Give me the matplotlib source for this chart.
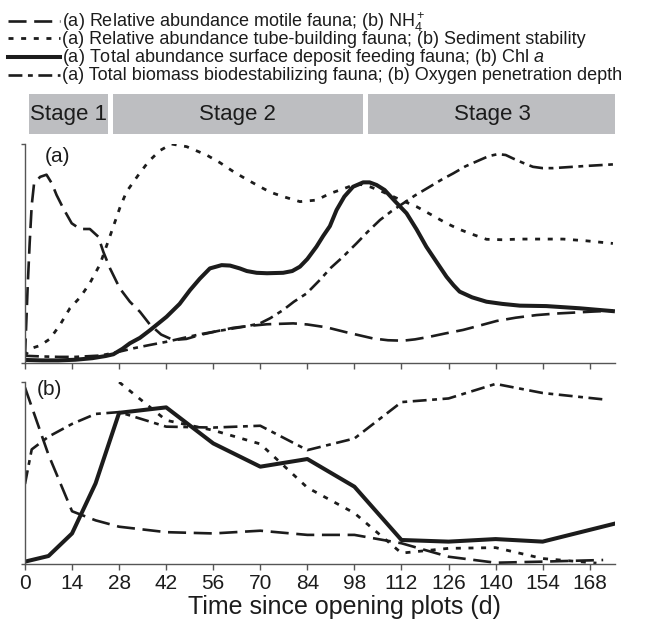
import matplotlib
matplotlib.use("Agg")
import matplotlib.pyplot as plt
from matplotlib.lines import Line2D

plt.rcParams["font.family"] = ["Liberation Sans", "DejaVu Sans"]
plt.rcParams["mathtext.fontset"] = "custom"
plt.rcParams["mathtext.rm"] = "Liberation Sans"
plt.rcParams["mathtext.it"] = "Liberation Sans:italic"
plt.rcParams["lines.scale_dashes"] = False

# ---- data (days since opening plots, relative value 0-1) ----
stage_names = ["Stage 1", "Stage 2", "Stage 3"]
stage_start = [1.2, 26.2, 102.0]
stage_end = [24.7, 100.5, 176.3]

xticks = [0, 14, 28, 42, 56, 70, 84, 98, 112, 126, 140, 154, 168]

# panel (a)
motile_days = [0, 0.3, 0.8, 1.4, 2.0, 2.7, 4.5, 6.4, 8.0, 9.4, 11.4, 13.9, 16.4, 19.3,
               21.8, 23.3, 25.3, 28.2, 31.2, 34.2, 37.2, 40.5, 44.1, 48, 52, 57, 62, 67,
               72, 79.8, 84, 89.7, 95.7, 103.6, 108, 112.5, 116, 120.4, 125, 130.3, 135,
               140.3, 146, 152.2, 158, 163, 169, 174.9]
motile_vals = [0.03, 0.15, 0.35, 0.55, 0.72, 0.82, 0.85, 0.86, 0.82, 0.767, 0.706, 0.638,
               0.612, 0.612, 0.577, 0.508, 0.432, 0.341, 0.28, 0.234, 0.175, 0.13, 0.105,
               0.11, 0.128, 0.145, 0.161, 0.17, 0.177, 0.181, 0.176, 0.163, 0.14, 0.112,
               0.104, 0.102, 0.108, 0.12, 0.135, 0.151, 0.17, 0.192, 0.207, 0.219, 0.226,
               0.23, 0.235, 0.239]

tube_days = [0, 1, 2.5, 4.5, 7.4, 10.4, 13.4, 16.4, 19.3, 22.3, 25.3, 28.2, 30.2, 33.7,
             36.7, 40.1, 43.6, 48.1, 54, 58, 62, 66, 69.9, 73, 76.8, 81.8, 86.7, 90.7,
             93.7, 97.6, 100, 102.6, 105.5, 108.5, 112.5, 116.5, 121, 125.4, 129, 132.3,
             137.3, 142, 147.2, 153, 160.1, 167, 174.9]
tube_vals = [0.03, 0.055, 0.07, 0.08, 0.11, 0.174, 0.251, 0.30, 0.365, 0.45, 0.58, 0.708,
             0.782, 0.858, 0.919, 0.97, 1.0, 0.988, 0.95, 0.915, 0.874, 0.838, 0.805, 0.78,
             0.76, 0.737, 0.744, 0.774, 0.79, 0.812, 0.815, 0.805, 0.788, 0.767, 0.74,
             0.714, 0.676, 0.638, 0.612, 0.592, 0.565, 0.563, 0.566, 0.566, 0.566, 0.558,
             0.546]

surface_days = [0, 5, 10, 15, 20, 24, 26.3, 29, 31.2, 34.2, 37.2, 42.1, 46, 49.1, 52, 55,
                58.5, 61, 63.9, 66, 68.9, 72, 76.8, 79.5, 81.8, 84, 86.7, 88.7, 90.7, 92.7,
                95, 97.6, 100.6, 102.5, 104.6, 107, 110, 113.5, 116.5, 119.4, 122.5, 125.4,
                127.5, 129.3, 133, 137.3, 142, 147.2, 155.1, 165, 174.9]
surface_vals = [0.014, 0.012, 0.012, 0.015, 0.022, 0.032, 0.04, 0.065, 0.09, 0.115, 0.15,
                0.211, 0.27, 0.333, 0.385, 0.432, 0.447, 0.445, 0.432, 0.42, 0.412, 0.41,
                0.412, 0.42, 0.44, 0.475, 0.531, 0.58, 0.625, 0.699, 0.76, 0.805, 0.825,
                0.825, 0.813, 0.79, 0.74, 0.684, 0.61, 0.531, 0.46, 0.394, 0.355, 0.326,
                0.3, 0.28, 0.27, 0.262, 0.26, 0.25, 0.237]

destab_days = [0, 5, 10, 15, 22.3, 27, 32.2, 37, 42.1, 47, 52, 57, 62, 66, 69.9, 73, 76.8,
               80, 83.8, 87.7, 91, 94.6, 98.6, 102, 105.6, 109, 112.5, 116, 120.4, 124,
               127.4, 131, 135.3, 138, 140.7, 143, 145.2, 148, 151.1, 154, 157.1, 162,
               167, 174.9]
destab_vals = [0.033, 0.03, 0.028, 0.028, 0.034, 0.048, 0.067, 0.082, 0.097, 0.114, 0.131,
               0.145, 0.158, 0.168, 0.181, 0.205, 0.242, 0.28, 0.318, 0.379, 0.435, 0.485,
               0.546, 0.6, 0.653, 0.693, 0.729, 0.765, 0.805, 0.838, 0.866, 0.898, 0.927,
               0.945, 0.954, 0.95, 0.934, 0.915, 0.896, 0.89, 0.89, 0.895, 0.9, 0.907]

# panel (b)
nh4_days = [0, 7, 14, 21, 28, 42, 56, 70, 84, 98, 112, 126, 140, 154, 172]
nh4_vals = [0.97, 0.6, 0.29, 0.24, 0.205, 0.175, 0.168, 0.183, 0.16, 0.16, 0.114, 0.04,
            0.007, 0.013, 0.022]

stab_days = [28, 42, 56, 70, 84, 98, 112, 126, 140, 154, 170]
stab_vals = [1.0, 0.79, 0.735, 0.66, 0.42, 0.28, 0.06, 0.086, 0.09, 0.03, 0.005]

chl_days = [0, 7, 14, 21, 28, 42, 56, 70, 84, 98, 112, 126, 140, 154, 175.9]
chl_vals = [0.013, 0.044, 0.168, 0.443, 0.831, 0.861, 0.663, 0.535, 0.577, 0.425, 0.132,
            0.123, 0.137, 0.123, 0.224]

oxy_days = [0, 2, 7, 14, 21, 28, 42, 56, 70, 84, 98, 112, 126, 140, 154, 172]
oxy_vals = [0.44, 0.63, 0.70, 0.77, 0.825, 0.835, 0.755, 0.75, 0.76, 0.626, 0.69, 0.89,
            0.91, 0.99, 0.94, 0.905]

labels = [
    r"(a) Relative abundance motile fauna; (b) NH$_4^+$",
    "(a) Relative abundance tube-building fauna; (b) Sediment stability",
    r"(a) Total abundance surface deposit feeding fauna; (b) Chl $a$",
    "(a) Total biomass biodestabilizing fauna; (b) Oxygen penetration depth",
]

ink = "#1c1c1c"
axis_col = "#555555"
styles = [
    dict(lw=1.9, dashes=(13, 5.5)),
    dict(lw=2.0, dashes=(3.6, 5.5)),
    dict(lw=2.9, linestyle="-"),
    dict(lw=1.9, dashes=(10, 4, 3.5, 4)),
]

xmax = 175.5
W, H = 649, 623

fig = plt.figure(figsize=(W / 100, H / 100), dpi=100)
ax_stage = fig.add_axes([0.0385, 0.785, 0.909, 0.064])
ax_a = fig.add_axes([0.0385, 0.4173, 0.909, 0.3515])
ax_b = fig.add_axes([0.0385, 0.0947, 0.909, 0.292])

# stage bar
ax_stage.barh(0, [e - s for s, e in zip(stage_start, stage_end)], left=stage_start,
              height=1.0, color="#bdbec1", edgecolor="none")
for name, s, e in zip(stage_names, stage_start, stage_end):
    ax_stage.text((s + e) / 2, 0, name, ha="center", va="center", fontsize=16, color=ink)
ax_stage.set_xlim(0, xmax)
ax_stage.set_ylim(-0.5, 0.5)
ax_stage.axis("off")

# panel (a)
for (d, v), st in zip([(motile_days, motile_vals), (tube_days, tube_vals),
                       (surface_days, surface_vals), (destab_days, destab_vals)], styles):
    ax_a.plot(d, v, color=ink, **st)

# panel (b)
for (d, v), st in zip([(nh4_days, nh4_vals), (stab_days, stab_vals),
                       (chl_days, chl_vals), (oxy_days, oxy_vals)], styles):
    ax_b.plot(d, v, color=ink, **st)

for ax in (ax_a, ax_b):
    ax.set_xlim(0, xmax)
    ax.set_ylim(0, 1.0)
    ax.set_xticks(xticks)
    ax.set_yticks([0, 1])
    ax.set_yticklabels([])
    ax.tick_params(direction="out", length=4, width=1, colors=axis_col, labelsize=15,
                   labelcolor=ink, pad=3)
    ax.tick_params(axis="y", length=3)
    for sp in ("top", "right"):
        ax.spines[sp].set_visible(False)
    for sp in ("left", "bottom"):
        ax.spines[sp].set_color(axis_col)
        ax.spines[sp].set_linewidth(1)

ax_a.set_xticklabels([])
ax_a.text(0.034, 0.985, "(a)", transform=ax_a.transAxes, fontsize=15, color=ink,
          ha="left", va="top")
ax_b.text(0.02, 1.01, "(b)", transform=ax_b.transAxes, fontsize=15, color=ink,
          ha="left", va="top")
ax_b.set_xlabel("Time since opening plots (d)", fontsize=18, color=ink)
ax_b.xaxis.set_label_coords(0.542, -0.17)

# legend drawn row by row (the NH4+ row would otherwise be taller than the others)
row_line_y = [21, 38, 57, 75]
row_base_y = [26.5, 43.5, 62, 80]
for st, lab, ly, by in zip(styles, labels, row_line_y, row_base_y):
    fig.add_artist(Line2D([8 / W, 60 / W], [1 - ly / H, 1 - ly / H],
                          transform=fig.transFigure, color=ink, **st))
    fig.text(62 / W, 1 - by / H, lab, fontsize=12.95, color=ink, ha="left",
             va="baseline")

fig.savefig("out.png", dpi=100)
